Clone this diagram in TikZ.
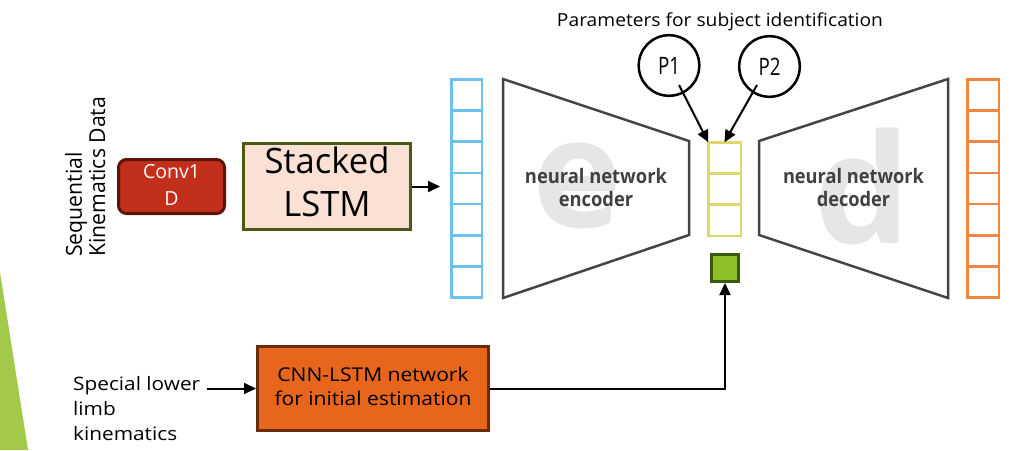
\documentclass[tikz,border=0pt]{standalone}
\usepackage{fontspec}
\setmainfont{Open Sans}
\usepackage{graphicx}
\usetikzlibrary{arrows.meta,calc}
\newcommand\fitw[2]{\resizebox{#1}{\height}{#2}}
\definecolor{bluec}{HTML}{6DC1EF}
\definecolor{orangec}{HTML}{EF8743}
\definecolor{yellowc}{HTML}{DED66E}
\definecolor{greenfill}{HTML}{8DBF26}
\definecolor{greenline}{HTML}{3C5A0E}
\definecolor{convfill}{HTML}{C22F1B}
\definecolor{convline}{HTML}{5B1409}
\definecolor{stkfill}{HTML}{FBE1D4}
\definecolor{stkline}{HTML}{4A5A14}
\definecolor{cnnfill}{HTML}{E8661B}
\definecolor{cnnline}{HTML}{6A2B0B}
\definecolor{trapc}{HTML}{444444}
\definecolor{nntext}{HTML}{404040}
\definecolor{bigc}{HTML}{E6E6E6}
\definecolor{leafc}{HTML}{A2C94A}
\begin{document}
\begin{tikzpicture}[x=1pt,y=-1pt,
  conn/.style={line width=2pt,-{Triangle[length=12pt,width=11pt]}},
  cell/.style={draw,line width=2.5pt,minimum width=30.5pt,minimum height=31.2pt,inner sep=0pt,outer sep=0pt},
  trap/.style={draw=trapc,line width=2.5pt,line join=miter},
  bigletter/.style={text=bigc,inner sep=0pt,font=\fontsize{152}{152}\selectfont\bfseries},
  nnlabel/.style={text=nntext,inner sep=0pt,font=\fontsize{20}{23}\selectfont\bfseries},
  pcircle/.style={draw,circle,line width=2.5pt,minimum size=60.6pt,inner sep=0pt,font=\fontsize{24}{26}\selectfont},
  plain/.style={inner sep=0pt},
]
\useasboundingbox (0,0) rectangle (1015,450);
% left decorative triangle
\fill[leafc] (0,272) -- (28,450) -- (0,450) -- cycle;

% big letters behind
\node[bigletter,anchor=base] (eL) at (577,227) {e};
\node[bigletter,anchor=base] (dL) at (863,243) {d};

% title
\node[plain,anchor=base] (title) at (720,26) {\fitw{326pt}{\fontsize{18}{20}\selectfont Parameters for subject identification}};

% rotated label
\node[plain,rotate=90,anchor=base west] (seq) at (105,257)
  {\fitw{160pt}{\fontsize{22}{23}\selectfont\begin{tabular}[b]{@{}l@{}}Sequential\\Kinematics Data\end{tabular}}};

% Conv1D
\node[draw=convline,fill=convfill,line width=3pt,rounded corners=8pt,minimum width=106pt,minimum height=46pt,inner sep=0pt,text=white] (conv) at (171.5,186.5)
  {\fitw{57pt}{\fontsize{19.5}{27}\selectfont\begin{tabular}{@{}c@{}}Conv1\\D\end{tabular}}};

% Stacked LSTM
\node[draw=stkline,fill=stkfill,line width=3pt,minimum width=167pt,minimum height=76pt,inner sep=0pt] (stk) at (327,186.5)
  {\fitw{125pt}{\fontsize{35}{43}\selectfont\begin{tabular}{@{}c@{}}Stacked\\LSTM\end{tabular}}};
\coordinate (stkin) at (440,186.5);
\draw[conn] (stk.east) -- (stkin);

% blue input column
\foreach \i in {1,...,7}
  \node[cell,draw=bluec] (b\i) at (466.5,{79.25+31.21*(\i-0.5)}) {};
% orange output column
\foreach \i in {1,...,7}
  \node[cell,draw=orangec,minimum width=31.5pt] (o\i) at (983,{79.25+31.21*(\i-0.5)}) {};
% yellow latent column
\foreach \i in {1,...,3}
  \node[cell,draw=yellowc,minimum width=32.5pt,minimum height=31.17pt] (y\i) at (724.5,{142.25+31.17*(\i-0.5)}) {};

% encoder / decoder
\draw[trap] (503,79) -- (689,141) -- (689,235) -- (503,298) -- cycle;
\draw[trap] (759,141) -- (948,79) -- (948,298) -- (759,235) -- cycle;
\node[nnlabel,anchor=base] (enc) at (596,206)
  {\fitw{142pt}{\begin{tabular}[b]{@{}c@{}}neural network\\encoder\end{tabular}}};
\node[nnlabel,anchor=base] (dec) at (853.5,206)
  {\fitw{141pt}{\begin{tabular}[b]{@{}c@{}}neural network\\decoder\end{tabular}}};

% parameter circles
\node[pcircle] (p1) at (669,65.5) {\fitw{22pt}{P1}};
\node[pcircle] (p2) at (769.5,66.5) {\fitw{22pt}{P2}};
\coordinate (p1s) at ($(p1.center)+(10,19.5)$);
\coordinate (p2s) at ($(p2.center)+(-12.5,18.5)$);
\draw[conn] (p1s) -- (y1.north west);
\draw[conn] (p2s) -- (y1.north);

% green initial estimate square
\node[draw=greenline,fill=greenfill,line width=3pt,minimum size=27pt,inner sep=0pt] (g) at (725,268) {};

% CNN-LSTM box
\node[draw=cnnline,fill=cnnfill,line width=3pt,minimum width=231pt,minimum height=84pt,inner sep=0pt] (cnn) at (373,388.5)
  {\fitw{197pt}{\fontsize{19}{24}\selectfont\begin{tabular}{@{}c@{}}CNN-LSTM network\\for initial estimation\end{tabular}}};

% special lower limb kinematics
\node[plain,anchor=base west] (spec) at (73,440)
  {\fitw{127pt}{\fontsize{18.5}{25}\selectfont\begin{tabular}[b]{@{}l@{}}Special lower\\limb\\kinematics\end{tabular}}};
\coordinate (specout) at (207,388.5);
\draw[conn] (specout) -- (cnn.west);

\draw[conn] (cnn.east) -| (g.south);
\end{tikzpicture}
\end{document}
